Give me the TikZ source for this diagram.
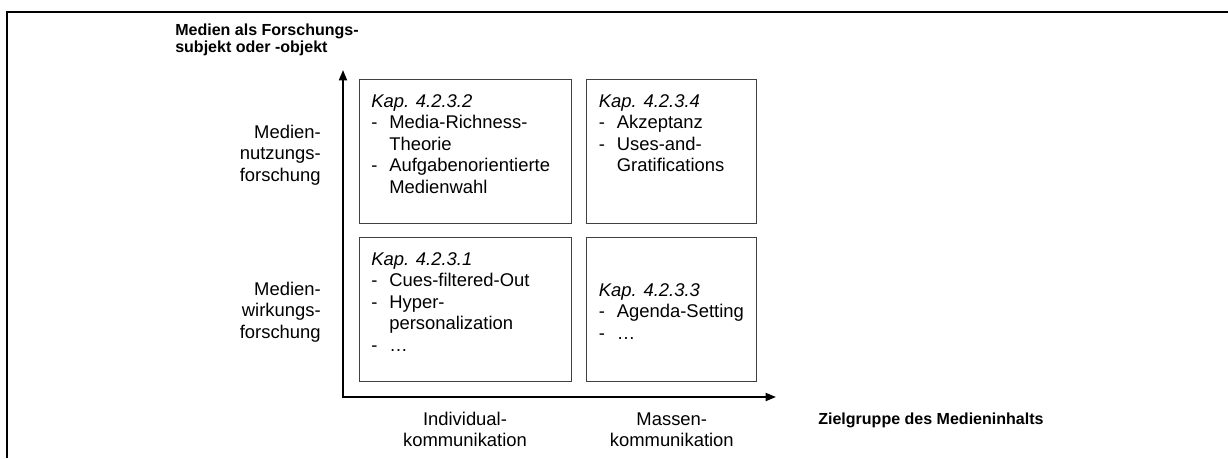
\documentclass[tikz,border=0pt]{standalone}
\usepackage{fontspec}
\setmainfont{Liberation Sans}
\usetikzlibrary{positioning, arrows.meta}

\begin{document}
\begin{tikzpicture}[
    feld/.style={draw=black!75, line width=0.7pt, minimum height=3.6cm, inner sep=0pt, outer sep=0pt},
    achse/.style={line width=1.4pt, line join=miter, {Triangle[length=0.26cm, width=0.2cm]}-{Triangle[length=0.26cm, width=0.2cm]}},
    rahmen/.style={line width=1.5pt},
    txt/.style={font=\fontsize{13.1}{15.3}\selectfont, inner sep=0pt, anchor=base west},
    beschr/.style={font=\fontsize{13.1}{15.3}\selectfont, inner sep=0pt},
    titel/.style={font=\fontsize{11.4}{11.4}\selectfont\bfseries, inner sep=0pt, anchor=base west}
  ]
    \useasboundingbox (-8.575,-1.525) rectangle (22.125,9.925);
    % Frame
    \draw[rahmen] (-8.3925,-1.525) -- (-8.3925,9.625) -- (22.125,9.625);
    % Axes
    \coordinate (o) at (0,0);
    \coordinate (yend) at (0,8.175);
    \coordinate (xend) at (10.825,0);
    \draw[achse] (yend) -- (o) -- (xend);
    % Boxes
    \node[feld, minimum width=5.3cm] (k2) at (3.05,6.14) {};
    \node[feld, minimum width=5.3cm, below=0.34cm of k2] (k1) {};
    \node[feld, minimum width=4.25cm, right=0.39cm of k2] (k4) {};
    \node[feld, minimum width=4.25cm, right=0.39cm of k1] (k3) {};
    % Texts in boxes
    \node[txt] (t2) at ([shift={(0.3,-0.7)}]k2.north west) {\begin{tabular}[t]{@{}p{0.45cm}@{}l@{}}
        \multicolumn{2}{@{}l@{}}{\textit{Kap. 4.2.3.2}}\\
        - & Media-Richness-\\
          & Theorie\\
        - & Aufgabenorientierte\\
          & Medienwahl
      \end{tabular}};
    \node[txt] (t4) at ([shift={(0.3,-0.7)}]k4.north west) {\begin{tabular}[t]{@{}p{0.45cm}@{}l@{}}
        \multicolumn{2}{@{}l@{}}{\textit{Kap. 4.2.3.4}}\\
        - & Akzeptanz\\
        - & Uses-and-\\
          & Gratifications
      \end{tabular}};
    \node[txt] (t1) at ([shift={(0.3,-0.7)}]k1.north west) {\begin{tabular}[t]{@{}p{0.45cm}@{}l@{}}
        \multicolumn{2}{@{}l@{}}{\textit{Kap. 4.2.3.1}}\\
        - & Cues-filtered-Out\\
        - & Hyper-\\
          & personalization\\
        - & …
      \end{tabular}};
    \node[txt] (t3) at ([shift={(0.3,-1.475)}]k3.north west) {\begin{tabular}[t]{@{}p{0.45cm}@{}l@{}}
        \multicolumn{2}{@{}l@{}}{\textit{Kap. 4.2.3.3}}\\
        - & Agenda-Setting\\
        - & …
      \end{tabular}};
    % Labels on the left
    \node[beschr, anchor=base east] (nutz) at (-0.55,6.475) {\begin{tabular}[t]{@{}r@{}}Medien-\\nutzungs-\\forschung\end{tabular}};
    \node[beschr, anchor=base east] (wirk) at (-0.55,2.55) {\begin{tabular}[t]{@{}r@{}}Medien-\\wirkungs-\\forschung\end{tabular}};
    % Labels below
    \node[beschr, anchor=base] (indiv) at (3.05,-0.7) {\begin{tabular}[t]{@{}c@{}}Individual-\\kommunikation\end{tabular}};
    \node[beschr, anchor=base] (masse) at (8.22,-0.7) {\begin{tabular}[t]{@{}c@{}}Massen-\\kommunikation\end{tabular}};
    % Axis titles
    \node[titel] (medien) at (-4.2,9.03) {\begin{tabular}[t]{@{}l@{}}Medien als Forschungs-\\subjekt oder -objekt\end{tabular}};
    \node[titel] (ziel) at (11.875,-0.69) {Zielgruppe des Medieninhalts};
\end{tikzpicture}
\end{document}
